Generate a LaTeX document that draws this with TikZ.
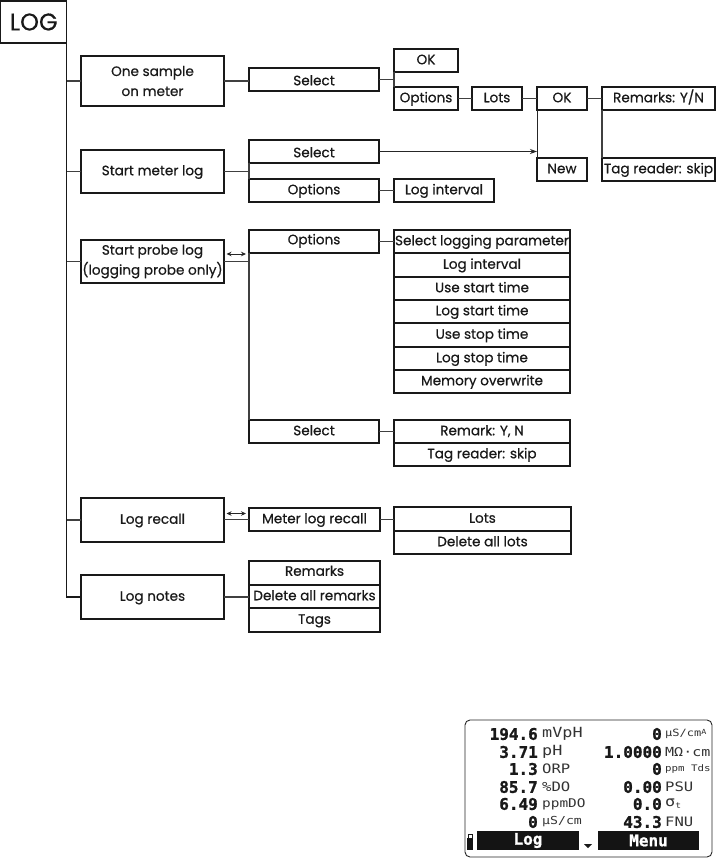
\documentclass[tikz,border=0pt]{standalone}
\usepackage{fontspec}
\usetikzlibrary{arrows.meta}
\setmainfont{Poppins}[FakeBold=0.5]
\newfontfamily\lcdbold{DejaVu Sans Mono Bold}[FakeBold=1.2]
\newfontfamily\lcdthin{DejaVu Sans Mono}[FakeStretch=1.2]
\newcommand\bx[6]{\node[boxn,oneline,minimum width={(#4-(#2))*1pt},minimum height={(#5-(#3))*1pt}] (#1) at ({(#2+#4)/2},{(#3+#5)/2}) {#6};}
\newcommand\bxx[6]{\node[boxn,minimum width={(#4-(#2))*1pt},minimum height={(#5-(#3))*1pt}] (#1) at ({(#2+#4)/2},{(#3+#5)/2}) {#6};}
\newcommand\lcdval[4]{\node[lcdv,anchor=east] (v#1) at (#2,#3) {#4};}
\newcommand\lcdunit[5]{\node[lcdu,anchor=west] (u#1) at (#2,#3) {\fontsize{#4}{#4}\selectfont #5};}
\tikzset{
  boxn/.style={draw=black!90,line width=1.4pt,fill=white,inner sep=0pt,outer sep=0pt,font=\fontsize{13.6}{20}\selectfont,align=center,text=black!90},
  oneline/.style={text height=10pt,text depth=2.5pt},
  conn/.style={draw=black!75,line width=1.1pt},
  trunk/.style={draw=black!90,line width=1.4pt},
  thinc/.style={draw=black!85,line width=.8pt},
  tip/.style={thinc,{Stealth[length=5pt,width=4.5pt]}-{Stealth[length=5pt,width=4.5pt]}},
  lcdv/.style={inner sep=0pt,font=\lcdbold\fontsize{16}{16}\selectfont,text=black!90},
  lcdu/.style={inner sep=0pt,font=\lcdthin,text=black!80},
  lcdbar/.style={fill=black!92,draw=none,inner sep=0pt,text=white,font=\lcdbold\fontsize{16}{16}\selectfont}
}
\begin{document}
\begin{tikzpicture}[x=1pt,y=-1pt]
\useasboundingbox (0,0) rectangle (716,859);
\fill[white] (0,0) rectangle (716,859);
% column 1
\node[boxn,minimum width=66pt,minimum height=42pt,font=\fontsize{24}{24}\selectfont] (log) at (33.7,22) {LOG};
\bxx{one}{81}{56}{224}{106}{One sample\\on meter}
\bx{meter}{81}{150}{224}{193}{Start meter log}
\bxx{probe}{81}{240}{224}{283}{Start probe log\\(logging probe only)}
\bx{recall}{81}{498}{224}{542}{Log recall}
\bx{notes}{81}{575}{224}{619}{Log notes}
% column 2
\bx{selA}{249}{68}{379}{91}{\raisebox{-2pt}{Select}}
\bx{selB}{249}{140}{379}{163}{\raisebox{-2pt}{Select}}
\bx{optB}{249}{179}{379}{202}{Options}
\bx{optC}{249}{230}{379}{253}{\raisebox{1pt}{Options}}
\bx{selC}{249}{420}{379}{443}{Select}
\bx{mlr}{249}{508}{380}{531}{Meter log recall}
\bx{rem}{249}{561}{380}{585}{\raisebox{1pt}{Remarks}}
\bx{dar}{249}{585}{380}{608}{Delete all remarks}
\bx{tags}{249}{608}{380}{632}{Tags}
% column 3
\bx{okA}{394}{49}{458}{72}{OK}
\bx{optA}{394}{87}{458}{110}{Options}
\bx{lots}{472}{87}{522}{110}{Lots}
\bx{okB}{537}{87}{587}{110}{OK}
\bx{remYN}{602}{87}{715}{110}{Remarks: Y/N}
\bx{new}{537}{158}{587}{181}{New}
\bx{tagA}{602}{158}{715}{181}{Tag reader: skip}
\bx{logiA}{394}{179}{494}{202}{Log interval}
\bx{p1}{394}{230}{570}{253}{Select logging parameter}
\bx{p2}{394}{253}{570}{277}{Log interval}
\bx{p3}{394}{277}{570}{300}{Use start time}
\bx{p4}{394}{300}{570}{323}{Log start time}
\bx{p5}{394}{323}{570}{347}{Use stop time}
\bx{p6}{394}{347}{570}{370}{Log stop time}
\bx{p7}{394}{370}{570}{393}{Memory overwrite}
\bx{remC}{394}{420}{570}{443}{Remark: Y, N}
\bx{tagC}{394}{443}{570}{466}{Tag reader: skip}
\bx{lotsD}{394}{507}{571}{531}{Lots}
\bx{dal}{394}{531}{571}{554}{Delete all lots}
% trunk
\draw[trunk] (log.south east) -- (log.south east |- notes.west) -- (notes.west);
\foreach \n in {one,meter,probe,recall}
  \draw[conn] (\n.west) -- (\n.west -| log.south east);
% level 1 to 2
\draw[conn] (one.east) -- (one.east -| selA.west);
\draw[conn] (meter.east) -- (meter.east -| selB.west);
\draw[conn] (selB.south west) -- (optB.north west);
\draw[conn] (probe.east) -- (probe.east -| optC.west);
\draw[conn] (optC.south west) -- (selC.north west);
\draw[conn] (recall.east |- mlr.west) -- (mlr.west);
\draw[conn] (notes.east) -- (notes.east -| dar.west);
\draw[tip] ([xshift=2.5pt,yshift=7.5pt]probe.east) -- ([xshift=22pt,yshift=7.5pt]probe.east);
\draw[tip] ([xshift=2.5pt,yshift=6pt]recall.east |- mlr.west) -- ([xshift=22pt,yshift=6pt]recall.east |- mlr.west);
% level 2 to 3
\draw[conn] (selA.east) -- (selA.east -| okA.south west);
\draw[conn] (okA.south west) -- (optA.north west);
\draw[conn] (optA.east) -- (lots.west);
\draw[conn] (lots.east) -- (okB.west);
\draw[conn] (okB.east) -- (remYN.west);
\draw[thinc] (okB.south west) -- (new.north west);
\draw[conn] (remYN.south west) -- (tagA.north west);
\draw[thinc,-{Stealth[length=7pt,width=5pt]}] (selB.east) -- (selB.east -| okB.south west);
\draw[conn] (optB.east) -- (logiA.west);
\draw[conn] (optC.east) -- (p1.west);
\draw[conn] (selC.east) -- (remC.west);
\draw[conn] (mlr.east) -- (mlr.east -| lotsD.west);
% display
\node[draw=black!85,line width=.9pt,rounded corners=5pt,minimum width=247pt,minimum height=137pt,inner sep=0pt] (lcd) at (588.5,788.5) {};
\lcdval{a}{538}{734}{194.6}\lcdunit{a}{542}{734}{14}{mVpH}
\lcdval{b}{538}{752}{3.71}\lcdunit{b}{542}{752}{14}{pH}
\lcdval{c}{538}{769}{1.3}\lcdunit{c}{542}{769}{13}{ORP}
\lcdval{d}{538}{787}{85.7}\lcdunit{d}{542}{787}{13}{\%DO}
\lcdval{e}{538}{804}{6.49}\lcdunit{e}{542}{804}{12}{ppmDO}
\lcdval{f}{538}{822}{0}\lcdunit{f}{542}{822}{11}{µS/cm}
\lcdval{g}{662}{734}{0}\lcdunit{g}{665}{734}{10}{µS/cm\raisebox{2pt}{\fontsize{7}{7}\selectfont A}}
\lcdval{h}{662}{752}{1.0000}\lcdunit{h}{665}{752}{12.5}{MΩ·cm}
\lcdval{i}{662}{769}{0}\lcdunit{i}{665}{769}{9}{ppm Tds}
\lcdval{j}{662}{787}{0.00}\lcdunit{j}{665}{787}{13}{PSU}
\lcdval{k}{662}{804}{0.0}\lcdunit{k}{665}{804}{14}{σ\raisebox{-2pt}{\fontsize{8}{8}\selectfont t}}
\lcdval{l}{662}{822}{43.3}\lcdunit{l}{665}{822}{13}{FNU}
\node[lcdbar,minimum width=102pt,minimum height=19pt] (barlog) at (528,840.5) {Log};
\node[lcdbar,minimum width=101pt,minimum height=19pt] (barmenu) at (648.5,840.5) {Menu};
\node[fill=black!92,inner sep=0pt,minimum width=6pt,minimum height=12pt] (batt) at (470,844) {};
\node[draw=black!90,line width=.7pt,fill=white,inner sep=0pt,minimum width=4pt,minimum height=4pt] (battcap) at (470,836) {};
\fill[black!90] (584,844) -- (592,844) -- (588,848) -- cycle;
\end{tikzpicture}
\end{document}
